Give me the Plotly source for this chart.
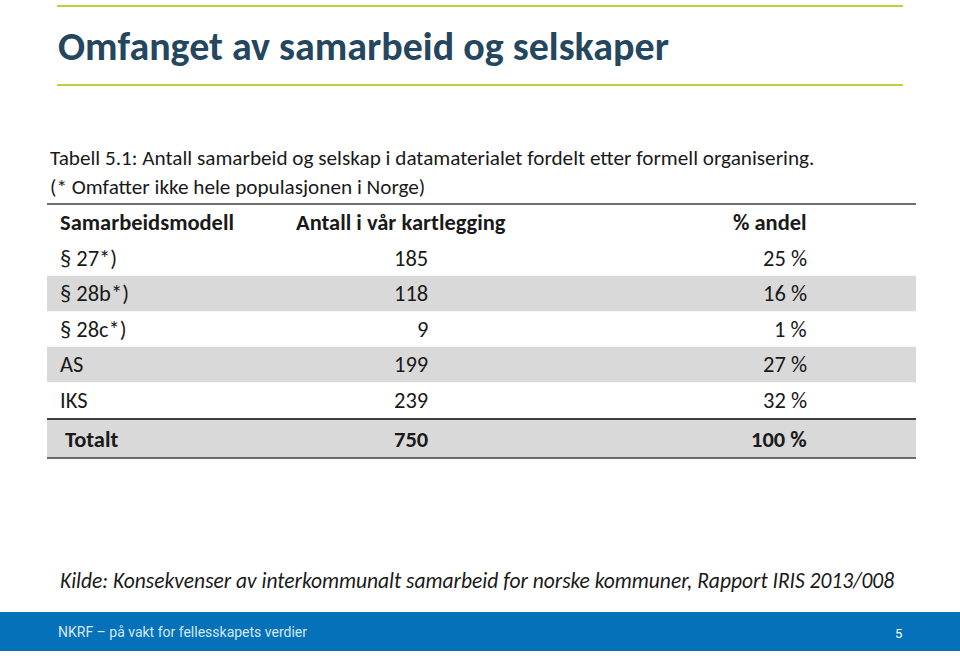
import plotly.graph_objects as go

# ---- data ----
title = "Omfanget av samarbeid og selskaper"
caption1 = "Tabell 5.1: Antall samarbeid og selskap i datamaterialet fordelt etter formell organisering."
caption2 = "(* Omfatter ikke hele populasjonen i Norge)"
headers = ["Samarbeidsmodell", "Antall i vår kartlegging", "% andel"]
categories = ["§ 27*)", "§ 28b*)", "§ 28c*)", "AS", "IKS"]
counts = [185, 118, 9, 199, 239]
shares = [25, 16, 1, 27, 32]
total_label = "Totalt"
total_count = 750
total_share = 100
source = "Kilde: Konsekvenser av interkommunalt samarbeid for norske kommuner, Rapport IRIS 2013/008"
footer = "NKRF – på vakt for fellesskapets verdier"
page_no = "5"

FONT = "Carlito, Lato, sans-serif"
GREEN = "#bfcf3f"
TITLE_C = "#24475f"
TXT = "#1a1a1a"
GREY = "#d9d9d9"
LINE = "#3f3f3f"
BLUE = "#0571b9"
TS = 22.5

fig = go.Figure()
shapes = []
ann = []

# slide decorations
shapes.append(dict(type="line", x0=57, x1=903, y0=6, y1=6, line=dict(color=GREEN, width=2)))
shapes.append(dict(type="line", x0=57, x1=903, y0=85, y1=85, line=dict(color=GREEN, width=2)))
ann.append(dict(x=56, y=46, text=f"<b>{title}</b>", xanchor="left", yanchor="middle",
                font=dict(family=FONT, size=40, color=TITLE_C)))

ann.append(dict(x=48, y=158, text=caption1, xanchor="left", yanchor="middle",
                font=dict(family=FONT, size=21.2, color=TXT)))
ann.append(dict(x=48, y=187, text=caption2, xanchor="left", yanchor="middle",
                font=dict(family=FONT, size=21.2, color=TXT)))

# table geometry
X0, X1 = 47, 916
COL1_X, COL2_R, COL3_R = 58, 430, 809
HEAD_Y = 222
ROW0 = 258
ROWH = 35.5

shapes.append(dict(type="line", x0=X0, x1=X1, y0=204, y1=204, line=dict(color=LINE, width=1.5)))

for j, h in enumerate(headers):
    x = [COL1_X, 294, COL3_R][j]
    xa = ["left", "left", "right"][j]
    ann.append(dict(x=x, y=HEAD_Y, text=f"<b>{h}</b>", xanchor=xa, yanchor="middle",
                    font=dict(family=FONT, size=TS, color=TXT)))

for i, (c, n, s) in enumerate(zip(categories, counts, shares)):
    yc = ROW0 + i * ROWH
    if i % 2 == 1:
        shapes.append(dict(type="rect", x0=X0, x1=X1, y0=yc - ROWH / 2, y1=yc + ROWH / 2,
                           fillcolor=GREY, line=dict(width=0), layer="below"))
    ann.append(dict(x=COL1_X, y=yc, text=c, xanchor="left", yanchor="middle",
                    font=dict(family=FONT, size=TS, color=TXT)))
    ann.append(dict(x=COL2_R, y=yc, text=str(n), xanchor="right", yanchor="middle",
                    font=dict(family=FONT, size=TS, color=TXT)))
    ann.append(dict(x=COL3_R, y=yc, text=f"{s} %", xanchor="right", yanchor="middle",
                    font=dict(family=FONT, size=TS, color=TXT)))

# total row
shapes.append(dict(type="rect", x0=X0, x1=X1, y0=420, y1=458, fillcolor=GREY,
                   line=dict(width=0), layer="below"))
shapes.append(dict(type="line", x0=X0, x1=X1, y0=419, y1=419, line=dict(color=LINE, width=2)))
shapes.append(dict(type="line", x0=X0, x1=X1, y0=458, y1=458, line=dict(color=LINE, width=1.5)))
TY = 439
ann.append(dict(x=63, y=TY, text=f"<b>{total_label}</b>", xanchor="left", yanchor="middle",
                font=dict(family=FONT, size=TS, color=TXT)))
ann.append(dict(x=COL2_R, y=TY, text=f"<b>{total_count}</b>", xanchor="right", yanchor="middle",
                font=dict(family=FONT, size=TS, color=TXT)))
ann.append(dict(x=COL3_R, y=TY, text=f"<b>{total_share} %</b>", xanchor="right", yanchor="middle",
                font=dict(family=FONT, size=TS, color=TXT)))

# source
ann.append(dict(x=58, y=581, text=f"<i>{source}</i>", xanchor="left", yanchor="middle",
                font=dict(family=FONT, size=21.5, color=TXT)))

# footer bar
shapes.append(dict(type="rect", x0=0, x1=960, y0=612, y1=651, fillcolor=BLUE,
                   line=dict(width=0), layer="below"))
ann.append(dict(x=56, y=632, text=footer, xanchor="left", yanchor="middle",
                font=dict(family="Liberation Sans Narrow, Roboto, sans-serif", size=14, color="#d6e8f5")))
ann.append(dict(x=898, y=633, text=page_no, xanchor="center", yanchor="middle",
                font=dict(family="Liberation Sans Narrow, Roboto, sans-serif", size=13, color="#ffffff")))

for a in ann:
    a.update(xref="x", yref="y", showarrow=False)

fig.update_layout(
    width=960, height=656,
    margin=dict(l=0, r=0, t=0, b=0),
    paper_bgcolor="white", plot_bgcolor="white",
    xaxis=dict(range=[0, 960], visible=False, fixedrange=True),
    yaxis=dict(range=[656, 0], visible=False, fixedrange=True),
    shapes=shapes, annotations=ann, showlegend=False,
)
fig.write_html("out.html", config={"displayModeBar": False},
               post_script="document.body.style.margin='0';document.body.style.overflow='hidden';")
